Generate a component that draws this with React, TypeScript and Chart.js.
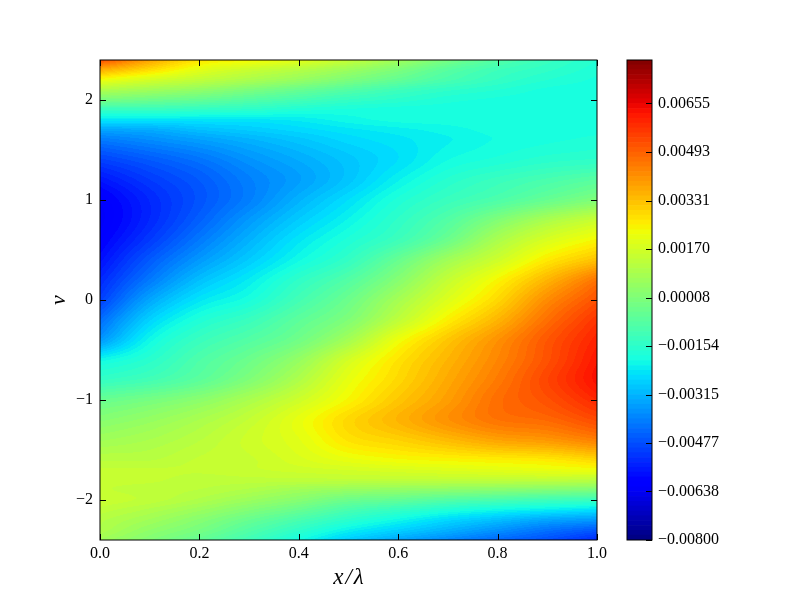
import React, { useEffect, useRef } from "react";
import { Chart, registerables } from "chart.js";

Chart.register(...registerables);

const FONT = '"Liberation Serif", serif';

const xValues = [0, 0.1, 0.2, 0.3, 0.4, 0.5, 0.6, 0.7, 0.8, 0.9, 1.0];
const vValues = [
  2.4, 2.3, 2.2, 2.1, 2.0, 1.9, 1.8, 1.7, 1.6, 1.4, 1.2, 1.0, 0.8, 0.6, 0.4, 0.2, 0,
  -0.2, -0.4, -0.6, -0.8, -1.0, -1.2, -1.4, -1.6, -1.7, -1.8, -1.9, -2.0, -2.1, -2.2, -2.3, -2.4,
];
const xTicks = [0, 0.2, 0.4, 0.6, 0.8, 1.0];
const vTicks = [-2, -1, 0, 1, 2];
const barTicks = [-0.008, -0.00638, -0.00477, -0.00315, -0.00154, 0.00008, 0.0017, 0.00331, 0.00493, 0.00655];
const colorMin = -0.008;
const colorMax = 0.008;
const levelCount = 99;

const heat = [
  [53, 38, 27, 24, 20, 14, 7, -1, -8, -13, -17],
  [36, 28, 20, 15, 11, 6, 0, -7, -12, -15, -18],
  [22, 17, 13, 9, 5, 0, -5, -10, -14, -17, -19],
  [10, 7, 4, 0, -4, -8, -12, -15, -17, -19, -19.5],
  [-1, -3, -5, -8, -11, -14, -16, -18, -19, -19.5, -19.5],
  [-14, -14, -15, -16, -18, -19, -19.5, -19.5, -19.5, -19.5, -19.5],
  [-24, -24, -24, -24, -23, -21, -19.7, -19.5, -19, -19, -19],
  [-34, -33, -30, -28, -26, -24, -22.5, -21, -19.5, -19, -19],
  [-41, -38, -35, -32, -29, -26, -24, -22, -20, -19, -18],
  [-50, -46, -42, -37, -33, -29, -25, -20.2, -18, -16, -15],
  [-57, -51, -46, -40, -35, -29, -22, -16.5, -13, -10, -7],
  [-62, -54, -47, -40, -32, -25, -18, -13, -9, -4, 1],
  [-63, -54, -45, -36, -28, -21.5, -15, -8, 1, 9, 15],
  [-61, -51, -41, -32, -24, -18, -12, -3, 9, 18, 24],
  [-58, -46, -36, -28, -20.5, -14, -4, 7, 16, 26, 33],
  [-54, -41, -30, -23, -15, -8, 2, 14, 24, 35, 46],
  [-50, -34, -24, -19, -11, -3, 8, 19, 29, 42, 52],
  [-43, -27, -18, -13, -6, 1, 13, 25, 35, 47, 57],
  [-36, -21, -13, -8, -2, 8, 22, 32, 41, 51, 60],
  [-21, -16, -9, -3, 5, 17, 27, 35, 43, 52, 62],
  [-14, -11, -6, 1, 10, 21, 29, 37, 45, 54, 63],
  [-4, -1, 3, 9, 16, 24, 32, 39, 47, 52, 59],
  [2, 5, 9, 14, 21, 29, 35, 41, 46, 48, 53],
  [7, 9, 12, 16, 20, 27, 30, 34, 38, 40, 44],
  [12, 12, 14, 15, 18, 21, 23, 24, 25, 26, 29],
  [14, 14, 14, 15, 16, 17, 18, 19, 20, 21, 22],
  [14, 14, 13, 13, 13, 13, 13, 13, 13, 13, 12],
  [14, 13, 12, 10, 7, 5, 4, 3, 2, 1, 0],
  [15, 13, 10, 6, 2, -3, -5, -8, -10, -12, -13],
  [13, 10, 6, 1, -4, -10, -14, -18, -21, -23, -25],
  [11, 7, 2, -4, -10, -16, -21, -26, -30, -34, -36],
  [10, 4, -1, -8, -15, -22, -27, -32, -37, -42, -46],
  [7, 1, -5, -12, -20, -28, -34, -39, -44, -48, -54],
];

function seg(t: number, pts: number[][]) {
  for (let i = 1; i < pts.length; i++) {
    if (t <= pts[i][0]) {
      const a = pts[i - 1];
      const b = pts[i];
      return a[1] + ((b[1] - a[1]) * (t - a[0])) / (b[0] - a[0]);
    }
  }
  return pts[pts.length - 1][1];
}

function jet(t: number): number[] {
  const r = seg(t, [[0, 0], [0.35, 0], [0.66, 1], [0.89, 1], [1, 0.5]]);
  const g = seg(t, [[0, 0], [0.125, 0], [0.375, 1], [0.64, 1], [0.91, 0], [1, 0]]);
  const b = seg(t, [[0, 0.5], [0.11, 1], [0.34, 1], [0.65, 0], [1, 0]]);
  return [Math.round(r * 255), Math.round(g * 255), Math.round(b * 255)];
}

function levelColor(val: number): number[] {
  let i = Math.floor(((val - colorMin) / (colorMax - colorMin)) * levelCount);
  i = Math.max(0, Math.min(levelCount - 1, i));
  return jet((i + 0.5) / levelCount);
}

// Smooth shading between the table's nodes (Hermite), the way a shaded mesh is painted.
function hermite(y0: number, y1: number, m0: number, m1: number, f: number, h: number) {
  const f2 = f * f;
  const f3 = f2 * f;
  return (2 * f3 - 3 * f2 + 1) * y0 + (f3 - 2 * f2 + f) * h * m0 + (-2 * f3 + 3 * f2) * y1 + (f3 - f2) * h * m1;
}

function slope(pos: number[], val: number[], i: number) {
  const a = Math.max(0, i - 1);
  const b = Math.min(pos.length - 1, i + 1);
  return (val[b] - val[a]) / (pos[b] - pos[a]);
}

function alongX(row: number[], x: number, ix: number, fx: number) {
  return hermite(row[ix], row[ix + 1], slope(xValues, row, ix), slope(xValues, row, ix + 1), fx, xValues[ix + 1] - xValues[ix]);
}

function sampleHeat(x: number, v: number) {
  let ix = 0;
  while (ix < xValues.length - 2 && x > xValues[ix + 1]) ix++;
  let iv = 0;
  while (iv < vValues.length - 2 && v < vValues[iv + 1]) iv++;
  const fx = Math.max(0, Math.min(1, (x - xValues[ix]) / (xValues[ix + 1] - xValues[ix])));
  const fv = Math.max(0, Math.min(1, (v - vValues[iv]) / (vValues[iv + 1] - vValues[iv])));
  const lo = Math.max(0, iv - 1);
  const hi = Math.min(vValues.length - 1, iv + 2);
  const col: number[] = [];
  const pos: number[] = [];
  for (let k = lo; k <= hi; k++) {
    col.push(alongX(heat[k], x, ix, fx));
    pos.push(vValues[k]);
  }
  const a = iv - lo;
  return hermite(col[a], col[a + 1], slope(pos, col, a), slope(pos, col, a + 1), fv, pos[a + 1] - pos[a]) * 1e-4;
}

const fieldPlugin = {
  id: "field",
  beforeDatasetsDraw(chart: any) {
    const { ctx, chartArea: a, scales } = chart;
    const w = Math.round(a.right - a.left);
    const h = Math.round(a.bottom - a.top);
    const off = document.createElement("canvas");
    off.width = w;
    off.height = h;
    const octx = off.getContext("2d")!;
    const img = octx.createImageData(w, h);
    for (let j = 0; j < h; j++) {
      const v = scales.y.getValueForPixel(a.top + j + 0.5);
      for (let i = 0; i < w; i++) {
        const x = scales.x.getValueForPixel(a.left + i + 0.5);
        const c = levelColor(sampleHeat(x, v));
        const k = (j * w + i) * 4;
        img.data[k] = c[0];
        img.data[k + 1] = c[1];
        img.data[k + 2] = c[2];
        img.data[k + 3] = 255;
      }
    }
    octx.putImageData(img, 0, 0);
    ctx.drawImage(off, a.left, a.top);
  },
  afterDraw(chart: any) {
    const { ctx, chartArea: a, scales } = chart;
    const L = 6;
    ctx.save();
    ctx.strokeStyle = "#000";
    ctx.lineWidth = 1;
    ctx.beginPath();
    scales.x.ticks.forEach((_: any, i: number) => {
      const p = Math.round(scales.x.getPixelForTick(i)) + 0.5;
      ctx.moveTo(p, a.bottom);
      ctx.lineTo(p, a.bottom - L);
      ctx.moveTo(p, a.top);
      ctx.lineTo(p, a.top + L);
    });
    scales.y.ticks.forEach((_: any, i: number) => {
      const p = Math.round(scales.y.getPixelForTick(i)) + 0.5;
      ctx.moveTo(a.left, p);
      ctx.lineTo(a.left + L, p);
      ctx.moveTo(a.right, p);
      ctx.lineTo(a.right - L, p);
    });
    ctx.stroke();
    ctx.strokeRect(a.left, a.top, a.right - a.left, a.bottom - a.top);
    ctx.restore();
  },
};

const barFrame = {
  id: "barFrame",
  afterDraw(chart: any) {
    const { ctx, chartArea: a, scales } = chart;
    ctx.save();
    ctx.strokeStyle = "#000";
    ctx.lineWidth = 1;
    ctx.beginPath();
    scales.y.ticks.forEach((_: any, i: number) => {
      const p = Math.round(scales.y.getPixelForTick(i)) + 0.5;
      ctx.moveTo(a.right, p);
      ctx.lineTo(a.right - 6, p);
    });
    ctx.stroke();
    ctx.strokeRect(a.left, a.top, a.right - a.left, a.bottom - a.top);
    ctx.restore();
  },
};

const signed = (s: string) => s.replace("-", "\u2212");

export default function App() {
  const mainRef = useRef<HTMLCanvasElement>(null);
  const barRef = useRef<HTMLCanvasElement>(null);

  useEffect(() => {
    const points: any[] = [];
    vValues.forEach((v, iv) => xValues.forEach((x, ix) => points.push({ x, y: v, value: heat[iv][ix] * 1e-4 })));

    const main = new Chart(mainRef.current!, {
      type: "scatter",
      data: { datasets: [{ data: points, pointRadius: 0 }] },
      plugins: [fieldPlugin],
      options: {
        animation: false,
        responsive: false,
        devicePixelRatio: 1,
        layout: { padding: { left: 0, top: 60, right: 203, bottom: 0 } },
        plugins: { legend: { display: false }, tooltip: { enabled: false } },
        scales: {
          x: {
            type: "linear",
            min: 0,
            max: 1,
            afterFit: (s: any) => { s.height = 60; },
            afterBuildTicks: (s: any) => { s.ticks = xTicks.map((value) => ({ value })); },
            grid: { display: false, drawTicks: false },
            border: { display: false },
            ticks: { color: "#000", font: { family: FONT, size: 16 }, padding: 4, maxRotation: 0, autoSkip: false, callback: (v: any) => Number(v).toFixed(1) },
            title: { display: true, text: "x\u200a/\u200a\u03bb", color: "#000", font: { family: FONT, size: 23, style: "italic" }, padding: { top: 0, bottom: 8 } },
          },
          y: {
            type: "linear",
            min: -2.4,
            max: 2.4,
            afterFit: (s: any) => { s.width = 100; },
            afterBuildTicks: (s: any) => { s.ticks = vTicks.map((value) => ({ value })); },
            grid: { display: false, drawTicks: false },
            border: { display: false },
            ticks: { color: "#000", font: { family: FONT, size: 16 }, padding: 7, autoSkip: false, callback: (v: any) => signed(String(v)) },
            title: { display: true, text: "v", color: "#000", font: { family: FONT, size: 22, style: "italic" }, padding: { top: 46, bottom: 0 } },
          },
        },
      } as any,
    });

    const step = (colorMax - colorMin) / levelCount;
    const levels = Array.from({ length: levelCount }, (_, i) => i);
    const bar = new Chart(barRef.current!, {
      type: "bar",
      data: {
        labels: [""],
        datasets: levels.map((i) => {
          const c = jet((i + 0.5) / levelCount);
          return {
            data: [[colorMin + i * step, colorMin + (i + 1) * step]],
            backgroundColor: `rgb(${c[0]},${c[1]},${c[2]})`,
            borderWidth: 0,
            barPercentage: 1,
            categoryPercentage: 1,
            stack: "bar",
          };
        }),
      } as any,
      plugins: [barFrame],
      options: {
        animation: false,
        responsive: false,
        devicePixelRatio: 1,
        layout: { padding: { left: 627, top: 60, right: 0, bottom: 60 } },
        plugins: { legend: { display: false }, tooltip: { enabled: false } },
        scales: {
          x: { display: false, stacked: true },
          y: {
            position: "right",
            stacked: false,
            min: colorMin,
            max: colorMax,
            afterFit: (s: any) => { s.width = 148; },
            afterBuildTicks: (s: any) => { s.ticks = barTicks.map((value) => ({ value })); },
            grid: { display: false, drawTicks: false },
            border: { display: false },
            ticks: { color: "#000", font: { family: FONT, size: 16 }, padding: 6, autoSkip: false, callback: (v: any) => signed(Number(v).toFixed(5)) },
          },
        },
      } as any,
    });

    return () => {
      main.destroy();
      bar.destroy();
    };
  }, []);

  const style: React.CSSProperties = { position: "absolute", left: 0, top: 0, width: 800, height: 600 };
  return (
    <div style={{ position: "fixed", left: 0, top: 0, width: 800, height: 600, background: "#fff" }}>
      <canvas ref={mainRef} width={800} height={600} style={style} />
      <canvas ref={barRef} width={800} height={600} style={style} />
    </div>
  );
}
